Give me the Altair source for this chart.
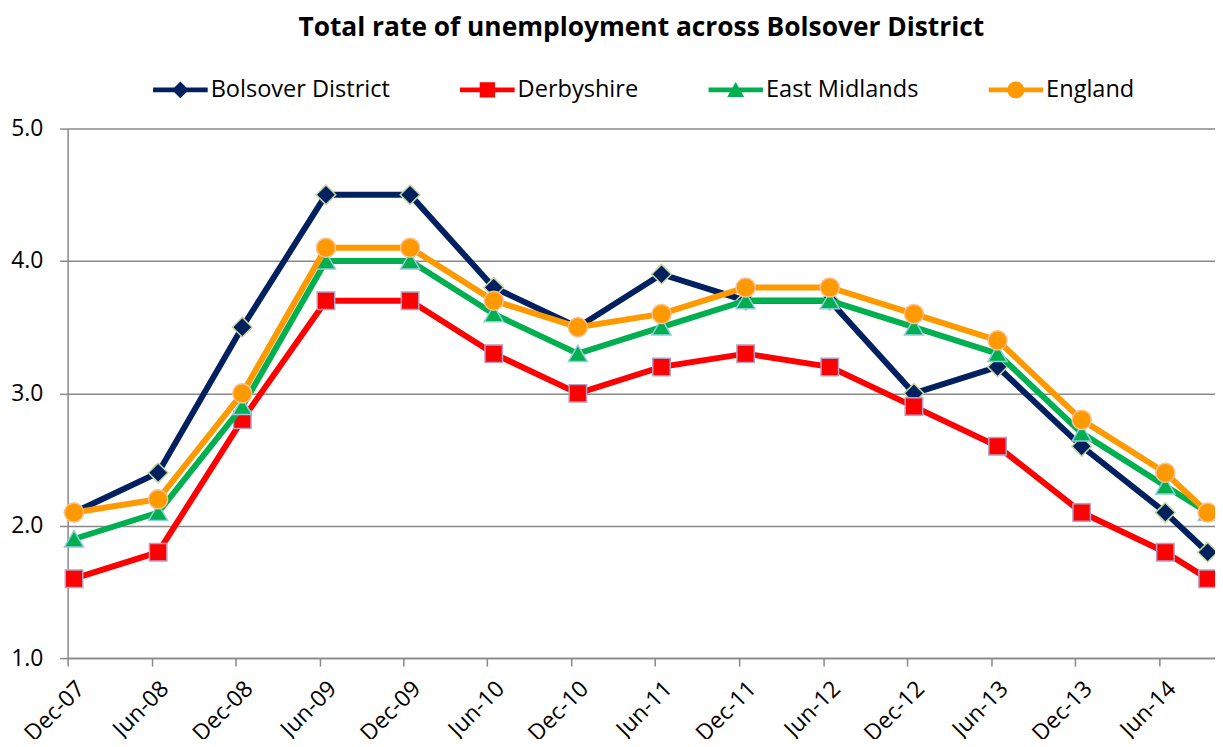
import altair as alt
import pandas as pd

# ---- data ----
periods = ["Dec-07", "Jun-08", "Dec-08", "Jun-09", "Dec-09", "Jun-10", "Dec-10",
           "Jun-11", "Dec-11", "Jun-12", "Dec-12", "Jun-13", "Dec-13", "Jun-14", "Sep-14"]
dates = ["2007-12-15", "2008-06-15", "2008-12-15", "2009-06-15", "2009-12-15",
         "2010-06-15", "2010-12-15", "2011-06-15", "2011-12-15", "2012-06-15",
         "2012-12-15", "2013-06-15", "2013-12-15", "2014-06-15", "2014-09-15"]
bolsover = [2.1, 2.4, 3.5, 4.5, 4.5, 3.8, 3.5, 3.9, 3.7, 3.7, 3.0, 3.2, 2.6, 2.1, 1.8]
derbyshire = [1.6, 1.8, 2.8, 3.7, 3.7, 3.3, 3.0, 3.2, 3.3, 3.2, 2.9, 2.6, 2.1, 1.8, 1.6]
east_midlands = [1.9, 2.1, 2.9, 4.0, 4.0, 3.6, 3.3, 3.5, 3.7, 3.7, 3.5, 3.3, 2.7, 2.3, 2.1]
england = [2.1, 2.2, 3.0, 4.1, 4.1, 3.7, 3.5, 3.6, 3.8, 3.8, 3.6, 3.4, 2.8, 2.4, 2.1]

series_names = ["Bolsover District", "Derbyshire", "East Midlands", "England"]
series_values = [bolsover, derbyshire, east_midlands, england]

# tick labels: Dec-07 ... Jun-14 (every 6 months)
tick_months = [(2007, 12), (2008, 6), (2008, 12), (2009, 6), (2009, 12), (2010, 6),
               (2010, 12), (2011, 6), (2011, 12), (2012, 6), (2012, 12), (2013, 6),
               (2013, 12), (2014, 6)]
y_ticks = [1, 2, 3, 4, 5]

# ---- styles ----
line_colors = ["#002060", "#FF0000", "#00B050", "#FF9900"]
outline_colors = ["#C3D69B", "#B3A2C7", "#93CDDD", "#FAC090"]
marker_paths = [
    "M0,-0.36L0.36,0L0,0.36L-0.36,0Z",
    "M-0.32,-0.32L0.32,-0.32L0.32,0.32L-0.32,0.32Z",
    "M0,-0.31L0.35,0.29L-0.35,0.29Z",
    "M-0.35,0A0.35,0.35,0,1,1,0.35,0A0.35,0.35,0,1,1,-0.35,0Z",
]
# legend symbols: line segment + marker (same winding so they unite)
seg = "M-1,-0.09L1,-0.09L1,0.09L-1,0.09Z"
legend_paths = [
    seg + "M0,-0.31L0.31,0L0,0.31L-0.31,0Z",
    seg + "M-0.28,-0.28L0.28,-0.28L0.28,0.28L-0.28,0.28Z",
    seg + "M0,-0.29L0.31,0.26L-0.31,0.26Z",
    seg + "M-0.31,0A0.31,0.31,0,1,1,0.31,0A0.31,0.31,0,1,1,-0.31,0Z",
]
FONT = "Open Sans"
GRAY = "#898989"
FS = 23

rows = []
for name, vals in zip(series_names, series_values):
    for d, p, v in zip(dates, periods, vals):
        rows.append({"date": d, "period": p, "series": name, "marker": name, "value": v})
df = pd.DataFrame(rows)

tick_values = [alt.DateTime(year=y, month=m, date=1, utc=True) for y, m in tick_months]
x_domain = [alt.DateTime(year=2007, month=12, date=1, utc=True),
            alt.DateTime(year=2014, month=10, date=1, utc=True)]

x_enc = alt.X(
    "date:T",
    scale=alt.Scale(type="utc", domain=x_domain),
    axis=alt.Axis(
        values=tick_values, format="%b-%y", title=None, grid=False,
        labelAngle=-45, labelAlign="right", labelBaseline="middle",
        labelPadding=19, labelOffset=13, labelFont=FONT, labelFontSize=FS,
        labelColor="#000000", labelOverlap=False, labelBound=False,
        tickSize=8, tickColor=GRAY, tickWidth=1.5,
        domainColor=GRAY, domainWidth=1.5,
    ),
)
y_enc = alt.Y(
    "value:Q",
    scale=alt.Scale(domain=[1, 5], nice=False, zero=False),
    axis=alt.Axis(
        values=y_ticks, format=".1f", title=None, grid=True, gridColor=GRAY,
        gridWidth=1.5, labelPadding=17, labelFont=FONT, labelFontSize=FS,
        labelColor="#000000", tickSize=8, tickColor=GRAY, tickWidth=1.5,
        domainColor=GRAY, domainWidth=1.5,
    ),
)

legend = alt.Legend(
    title=None, orient="none", legendX=86, legendY=-54, direction="horizontal",
    columns=4, symbolSize=3025, symbolStrokeWidth=0, symbolOpacity=1,
    clipHeight=30, labelOffset=3, columnPadding=70, padding=0, labelLimit=0,
    labelFont=FONT, labelFontSize=23.7, labelColor="#000000",
)

color_enc = alt.Color("series:N", scale=alt.Scale(domain=series_names, range=line_colors),
                      legend=None)
outline_enc = alt.Stroke("series:N", scale=alt.Scale(domain=series_names, range=outline_colors),
                         legend=None)

base = alt.Chart(df)

# invisible layer that only carries the legend (line segment + marker symbols)
legend_layer = base.mark_point(filled=True, opacity=0, size=1).encode(
    x=x_enc, y=y_enc,
    fill=alt.Fill("marker:N", scale=alt.Scale(domain=series_names, range=line_colors),
                  legend=legend),
    shape=alt.Shape("marker:N", scale=alt.Scale(domain=series_names, range=legend_paths),
                    legend=legend),
)

layers = [legend_layer]
for name, path in zip(series_names, marker_paths):
    sub = base.transform_filter(alt.datum.series == name)
    layers.append(sub.mark_line(strokeWidth=6).encode(x=x_enc, y=y_enc, color=color_enc))
    layers.append(
        sub.mark_point(filled=True, shape=path, size=3025, strokeWidth=1.5, opacity=1).encode(
            x=x_enc, y=y_enc, color=color_enc, stroke=outline_enc
        )
    )

chart = alt.layer(*layers).properties(
    width=1155,
    height=533,
    padding={"left": 60, "top": 119, "right": 0, "bottom": 79},
    autosize=alt.AutoSizeParams(type="none"),
    title=alt.Title(
        "Total rate of unemployment across Bolsover District",
        font=FONT, fontSize=26.5, fontWeight="bold", color="#000000",
        anchor="middle", offset=34,
    ),
).configure_view(stroke=None)

chart.save("out.html", embed_options={"renderer": "svg", "actions": False})
